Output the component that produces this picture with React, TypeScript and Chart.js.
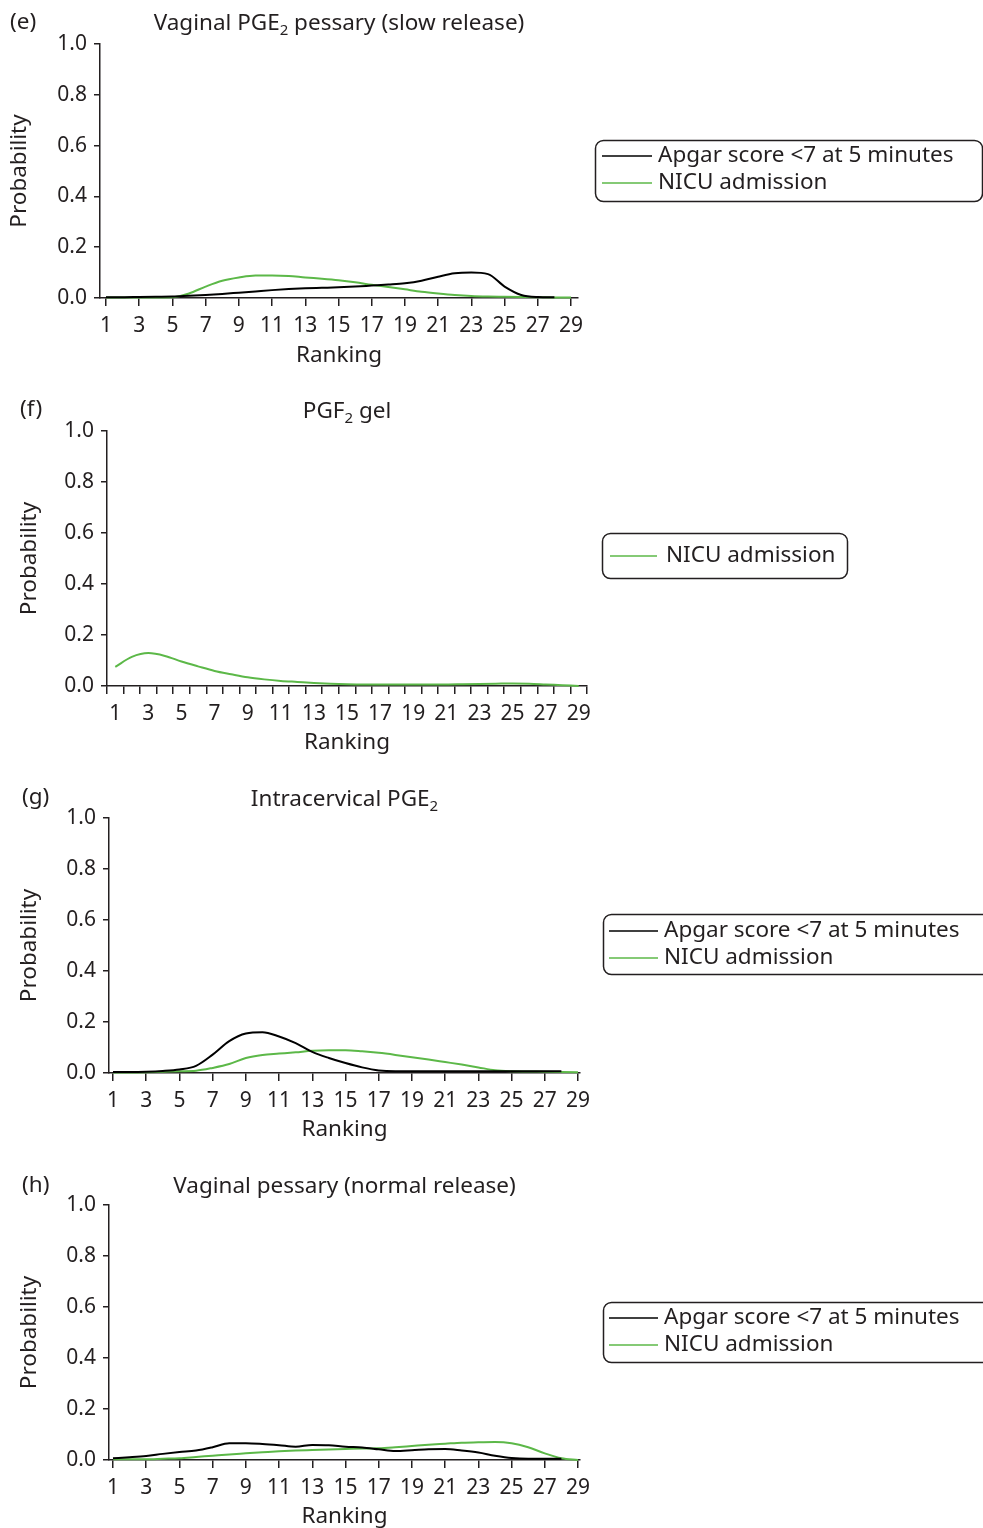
import React, { useEffect, useRef } from 'react';
import { Chart, registerables } from 'chart.js';

Chart.register(...registerables);

const FONT = '"Noto Sans", "Open Sans", sans-serif';
const INK = '#231f20';
const BLACK = '#000000';
const GREEN = '#5cb848';
const TEXT_SIZE = 22.5;
const TICK_SIZE = 21;

// ---- data ----
const rankings = [1, 2, 3, 4, 5, 6, 7, 8, 9, 10, 11, 12, 13, 14, 15, 16, 17, 18, 19, 20, 21, 22, 23, 24, 25, 26, 27, 28, 29];
const tickLabels = ['1', '3', '5', '7', '9', '11', '13', '15', '17', '19', '21', '23', '25', '27', '29'];
const yTicks = [0, 0.2, 0.4, 0.6, 0.8, 1.0];

const apgarLabel = 'Apgar score <7 at 5 minutes';
const nicuLabel = 'NICU admission';

// (e) Vaginal PGE2 pessary (slow release)
const eApgar = [0.003, 0.003, 0.004, 0.005, 0.006, 0.009, 0.012, 0.016, 0.021, 0.026, 0.031, 0.035, 0.038, 0.040, 0.042, 0.045, 0.049, 0.053, 0.058, 0.068, 0.084, 0.097, 0.100, 0.094, 0.045, 0.012, 0.004, 0.003];
const eNicu = [0.002, 0.002, 0.002, 0.002, 0.003, 0.018, 0.045, 0.068, 0.081, 0.089, 0.089, 0.087, 0.081, 0.076, 0.070, 0.062, 0.052, 0.043, 0.034, 0.025, 0.018, 0.012, 0.008, 0.006, 0.005, 0.004, 0.003, 0.002, 0.002];

// (f) PGF2 gel
const fNicu = [0.075, 0.114, 0.129, 0.118, 0.096, 0.077, 0.059, 0.046, 0.034, 0.026, 0.020, 0.016, 0.012, 0.009, 0.007, 0.006, 0.006, 0.006, 0.006, 0.006, 0.006, 0.007, 0.008, 0.009, 0.010, 0.009, 0.006, 0.003, 0.0];

// (g) Intracervical PGE2
const gApgar = [0.004, 0.004, 0.005, 0.008, 0.014, 0.028, 0.072, 0.125, 0.155, 0.160, 0.143, 0.117, 0.083, 0.059, 0.039, 0.022, 0.010, 0.007, 0.007, 0.007, 0.007, 0.007, 0.007, 0.007, 0.007, 0.007, 0.007, 0.007];
const gNicu = [0.002, 0.002, 0.003, 0.005, 0.007, 0.009, 0.020, 0.035, 0.059, 0.071, 0.076, 0.081, 0.087, 0.089, 0.089, 0.085, 0.079, 0.071, 0.062, 0.053, 0.043, 0.033, 0.022, 0.011, 0.007, 0.006, 0.005, 0.004, 0.003];

// (h) Vaginal pessary (normal release)
const hApgar = [0.007, 0.011, 0.016, 0.024, 0.031, 0.037, 0.050, 0.066, 0.066, 0.063, 0.058, 0.052, 0.059, 0.058, 0.052, 0.049, 0.042, 0.035, 0.038, 0.042, 0.043, 0.037, 0.029, 0.017, 0.008, 0.005, 0.005, 0.005];
const hNicu = [0.003, 0.003, 0.003, 0.005, 0.007, 0.012, 0.017, 0.022, 0.026, 0.030, 0.034, 0.037, 0.039, 0.041, 0.043, 0.045, 0.046, 0.050, 0.055, 0.060, 0.064, 0.068, 0.070, 0.071, 0.066, 0.050, 0.026, 0.007, 0.0];

type Seg = { t: string; sub?: boolean };
type Series = { label: string; values: number[]; color: string };
type PanelCfg = {
  letter: string;
  letterX: number;
  letterY: number;
  title: Seg[];
  titleY: number;
  chartLeft: number;
  chartRight: number;
  chartBottom: number;
  xMin: number;
  xMax: number;
  halfTicks: boolean;
  yTitlePad: number;
  series: Series[];
  legend: { x: number; y: number; w: number; h: number; firstY: number; rowGap: number; lineX0: number; lineX1: number; textX: number };
};

const panels: PanelCfg[] = [
  {
    letter: '(e)', letterX: 10, letterY: 23,
    title: [{ t: 'Vaginal PGE' }, { t: '2', sub: true }, { t: ' pessary (slow release)' }], titleY: 24,
    chartLeft: 100, chartRight: 578, chartBottom: 298, xMin: 0.64, xMax: 29.42, halfTicks: false, yTitlePad: 6,
    series: [
      { label: apgarLabel, values: eApgar, color: BLACK },
      { label: nicuLabel, values: eNicu, color: GREEN },
    ],
    legend: { x: 595, y: 140, w: 387, h: 61, firstY: 156, rowGap: 27, lineX0: 602, lineX1: 652, textX: 658 },
  },
  {
    letter: '(f)', letterX: 20, letterY: 23,
    title: [{ t: 'PGF' }, { t: '2', sub: true }, { t: ' gel' }], titleY: 25,
    chartLeft: 107, chartRight: 587, chartBottom: 299, xMin: 0.5, xMax: 29.5, halfTicks: true, yTitlePad: 16,
    series: [{ label: nicuLabel, values: fNicu, color: GREEN }],
    legend: { x: 602, y: 146, w: 245, h: 45, firstY: 169, rowGap: 27, lineX0: 610, lineX1: 657, textX: 666 },
  },
  {
    letter: '(g)', letterX: 22, letterY: 24,
    title: [{ t: 'Intracervical PGE' }, { t: '2', sub: true }], titleY: 26,
    chartLeft: 109, chartRight: 580, chartBottom: 299, xMin: 0.76, xMax: 29.12, halfTicks: false, yTitlePad: 16,
    series: [
      { label: apgarLabel, values: gApgar, color: BLACK },
      { label: nicuLabel, values: gNicu, color: GREEN },
    ],
    legend: { x: 603, y: 140, w: 420, h: 60, firstY: 157, rowGap: 27, lineX0: 609, lineX1: 658, textX: 664 },
  },
  {
    letter: '(h)', letterX: 22, letterY: 25,
    title: [{ t: 'Vaginal pessary (normal release)' }], titleY: 26,
    chartLeft: 109, chartRight: 580, chartBottom: 299, xMin: 0.76, xMax: 29.12, halfTicks: false, yTitlePad: 16,
    series: [
      { label: apgarLabel, values: hApgar, color: BLACK },
      { label: nicuLabel, values: hNicu, color: GREEN },
    ],
    legend: { x: 603, y: 141, w: 420, h: 60, firstY: 157, rowGap: 27, lineX0: 609, lineX1: 658, textX: 664 },
  },
];

const CANVAS_W = 983;
const CANVAS_H = 387;
const CHART_TOP = 44;

const panelDecor = {
  id: 'panelDecor',
  afterDraw(chart: any, _args: any, opts: any) {
    const cfg: PanelCfg = opts.cfg;
    if (!cfg) return;
    const ctx: CanvasRenderingContext2D = chart.ctx;
    const mainFont = `${TEXT_SIZE}px ${FONT}`;
    const subFont = `15px ${FONT}`;
    ctx.save();
    ctx.fillStyle = INK;
    ctx.textBaseline = 'middle';
    ctx.textAlign = 'left';
    ctx.font = mainFont;
    ctx.fillText(cfg.letter, cfg.letterX, cfg.letterY);

    // title with subscripts
    const { left, right } = chart.chartArea;
    let total = 0;
    for (const s of cfg.title) {
      ctx.font = s.sub ? subFont : mainFont;
      total += ctx.measureText(s.t).width;
    }
    let x = (left + right) / 2 - total / 2;
    for (const s of cfg.title) {
      ctx.font = s.sub ? subFont : mainFont;
      ctx.fillText(s.t, x, cfg.titleY + (s.sub ? 7 : 0));
      x += ctx.measureText(s.t).width;
    }

    // legend box
    const lg = cfg.legend;
    ctx.strokeStyle = INK;
    ctx.lineWidth = 1.5;
    ctx.beginPath();
    (ctx as any).roundRect(lg.x + 0.5, lg.y + 0.5, lg.w, lg.h, 8);
    ctx.stroke();
    chart.data.datasets.forEach((ds: any, i: number) => {
      const y = lg.firstY + i * lg.rowGap;
      ctx.strokeStyle = ds.borderColor;
      ctx.lineWidth = 1.5;
      ctx.beginPath();
      ctx.moveTo(lg.lineX0, y);
      ctx.lineTo(lg.lineX1, y);
      ctx.stroke();
      ctx.fillStyle = INK;
      ctx.font = mainFont;
      ctx.fillText(ds.label, lg.textX, y);
    });
    ctx.restore();
  },
};

function Panel({ cfg, top }: { cfg: PanelCfg; top: number }) {
  const ref = useRef<HTMLCanvasElement | null>(null);
  useEffect(() => {
    const canvas = ref.current;
    if (!canvas) return;
    const xTickValues = cfg.halfTicks
      ? [...rankings.flatMap((r) => [r - 0.5, r]), rankings[rankings.length - 1] + 0.5]
      : rankings.filter((r) => tickLabels.includes(String(r)));
    const chart = new Chart(canvas, {
      type: 'line',
      data: {
        datasets: cfg.series.map((s) => ({
          label: s.label,
          data: s.values.map((v, i) => ({ x: rankings[i], y: v })),
          borderColor: s.color,
          backgroundColor: s.color,
          borderWidth: 2,
          pointRadius: 0,
          fill: false,
          cubicInterpolationMode: 'monotone' as const,
          clip: false as any,
        })),
      },
      options: {
        animation: false,
        responsive: false,
        devicePixelRatio: 1,
        events: [],
        layout: { padding: { top: CHART_TOP, left: 0, right: CANVAS_W - cfg.chartRight, bottom: 0 } },
        font: { family: FONT, size: TICK_SIZE } as any,
        plugins: {
          legend: { display: false },
          tooltip: { enabled: false },
          title: { display: false },
          panelDecor: { cfg },
        } as any,
        scales: {
          x: {
            type: 'linear',
            min: cfg.xMin,
            max: cfg.xMax,
            bounds: 'data',
            afterBuildTicks: (scale: any) => {
              scale.ticks = xTickValues.map((v) => ({ value: v }));
            },
            afterFit: (scale: any) => {
              scale.height = CANVAS_H - cfg.chartBottom;
            },
            grid: {
              display: true,
              drawOnChartArea: false,
              drawTicks: true,
              tickLength: 8,
              lineWidth: 1.5,
              color: INK,
              tickColor: (c: any) =>
                cfg.halfTicks && c.tick && Number.isInteger(c.tick.value) ? 'rgba(0,0,0,0)' : INK,
            },
            border: { display: true, color: INK, width: 1.5 },
            ticks: {
              autoSkip: false,
              maxRotation: 0,
              minRotation: 0,
              padding: 7,
              color: INK,
              font: { family: FONT, size: TICK_SIZE },
              callback: (v: any) => (tickLabels.includes(String(v)) ? String(v) : ''),
            },
            title: {
              display: true,
              text: 'Ranking',
              color: INK,
              font: { family: FONT, size: TEXT_SIZE },
              padding: { top: 0, bottom: 18 },
            },
          },
          y: {
            type: 'linear',
            min: 0,
            max: 1,
            afterBuildTicks: (scale: any) => {
              scale.ticks = yTicks.map((v) => ({ value: v }));
            },
            afterFit: (scale: any) => {
              scale.width = cfg.chartLeft;
            },
            grid: {
              display: true,
              drawOnChartArea: false,
              drawTicks: true,
              tickLength: 6,
              lineWidth: 1.5,
              color: INK,
            },
            border: { display: true, color: INK, width: 1.5 },
            ticks: {
              padding: 7,
              color: INK,
              font: { family: FONT, size: TICK_SIZE },
              callback: (v: any) => Number(v).toFixed(1),
            },
            title: {
              display: true,
              text: 'Probability',
              color: INK,
              font: { family: FONT, size: TEXT_SIZE },
              padding: { top: cfg.yTitlePad, bottom: 0 },
            },
          },
        },
      } as any,
      plugins: [panelDecor],
    });
    return () => chart.destroy();
  }, [cfg]);
  return (
    <canvas
      ref={ref}
      width={CANVAS_W}
      height={CANVAS_H}
      style={{ position: 'absolute', left: 0, top, width: CANVAS_W, height: CANVAS_H, display: 'block' }}
    />
  );
}

export default function App() {
  return (
    <div
      style={{
        position: 'absolute',
        left: 0,
        top: 0,
        width: CANVAS_W,
        height: 1528,
        overflow: 'hidden',
        background: '#ffffff',
      }}
    >
      {panels.map((p, i) => (
        <Panel key={p.letter} cfg={p} top={i * CANVAS_H} />
      ))}
    </div>
  );
}
